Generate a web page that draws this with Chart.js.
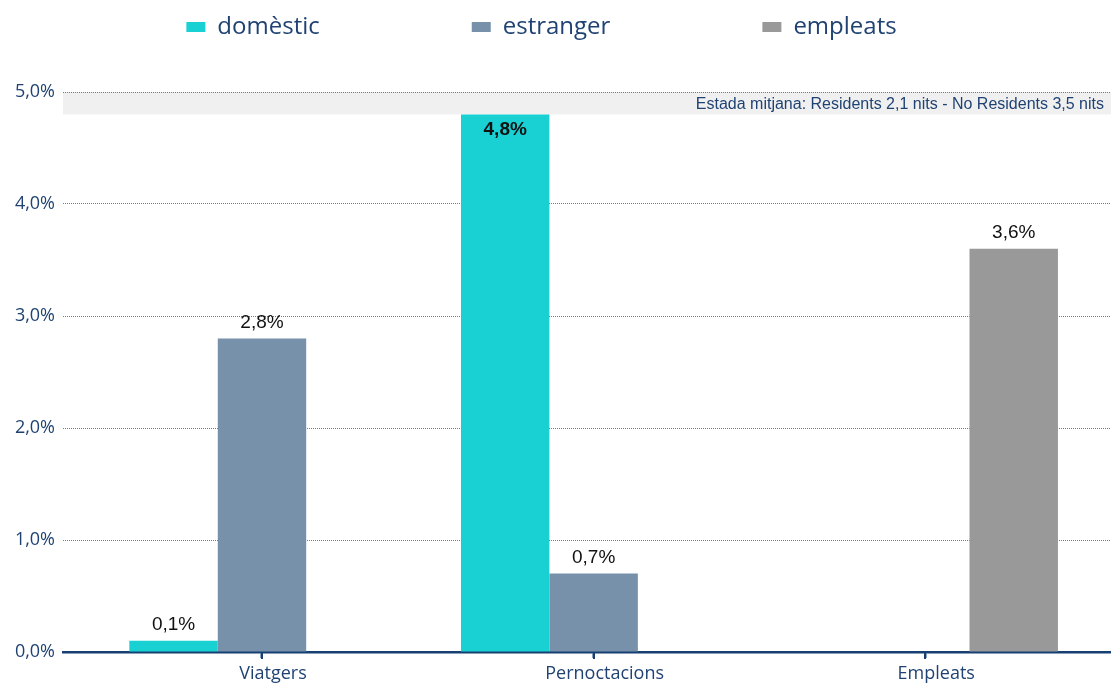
<!DOCTYPE html>
<html lang="ca">
<head>
<meta charset="utf-8">
<title>Viatgers, pernoctacions i empleats</title>
<script src="https://cdn.jsdelivr.net/npm/chart.js@4.4.1/dist/chart.umd.min.js"></script>
<style>
  html, body { margin: 0; background: #fff; }
  canvas { display: block; }
</style>
</head>
<body>
<canvas id="chart" width="1111" height="685"></canvas>
<script>
// values (percent change)
const categories = ['Viatgers', 'Pernoctacions', 'Empleats'];
const domestic = [0.1, 4.8, null];
const foreign = [2.8, 0.7, null];
const employees = [null, null, 3.6];
const yTicks = [0, 1, 2, 3, 4, 5];
const bandRange = [4.8, 5.0];
const note = 'Estada mitjana: Residents 2,1 nits - No Residents 3,5 nits';

const navy = '#1f4273';
const axisColor = '#163f72';
const fmt = v => v.toFixed(1).replace('.', ',') + '%';
const points = arr => arr.map((v, i) => ({ x: i, y: v }));

// grey band with the note, behind everything
const bandPlugin = {
    id: 'band',
    beforeDraw(chart) {
        const { ctx, chartArea, scales } = chart;
        const top = scales.y.getPixelForValue(bandRange[1]);
        const bottom = scales.y.getPixelForValue(bandRange[0]);
        ctx.save();
        ctx.fillStyle = '#f0f0f0';
        ctx.fillRect(chartArea.left, top, chartArea.right - chartArea.left, bottom - top);
        ctx.fillStyle = navy;
        ctx.font = '16px "Liberation Sans", Arial, sans-serif';
        ctx.textAlign = 'right';
        ctx.textBaseline = 'middle';
        ctx.fillText(note, chartArea.right - 7, (top + bottom) / 2 + 1);
        ctx.restore();
    }
};

// value labels above bars (inside, in bold, when too close to the top)
const valueLabels = {
    id: 'valueLabels',
    afterDatasetsDraw(chart) {
        const { ctx, chartArea } = chart;
        ctx.save();
        ctx.fillStyle = '#111';
        ctx.textAlign = 'center';
        ctx.textBaseline = 'middle';
        chart.data.datasets.forEach((ds, i) => {
            chart.getDatasetMeta(i).data.forEach((bar, j) => {
                const v = ds.data[j].y;
                if (v == null) return;
                let y = bar.y - 16;
                let weight = '';
                if (y < chartArea.top + 30) {
                    y = bar.y + 15;
                    weight = 'bold ';
                }
                ctx.font = weight + '19px "Liberation Sans", Arial, sans-serif';
                ctx.fillText(fmt(v), bar.x, y);
            });
        });
        ctx.restore();
    }
};

// small tick marks under the x axis at each category
const categoryTicks = {
    id: 'categoryTicks',
    afterDraw(chart) {
        const { ctx, chartArea, scales } = chart;
        ctx.save();
        ctx.fillStyle = axisColor;
        categories.forEach((c, i) => {
            const px = Math.round(scales.x.getPixelForValue(i));
            ctx.fillRect(px - 1, chartArea.bottom, 2, 7);
        });
        ctx.restore();
    }
};

// legend: fixed height and moved up, keeping the wide spacing between items
const legendPlace = {
    id: 'legendPlace',
    afterInit(chart) {
        const lg = chart.legend;
        const fit = lg.fit;
        lg.fit = function () { fit.call(this); this.height = 92; };
        const draw = lg._draw;
        lg._draw = function () {
            this.ctx.save();
            this.ctx.translate(-14, -137);
            draw.call(this);
            this.ctx.restore();
        };
    }
};

new Chart(document.getElementById('chart'), {
    type: 'bar',
    data: {
        datasets: [
            { label: 'domèstic', data: points(domestic), backgroundColor: '#19d1d3' },
            { label: 'estranger', data: points(foreign), backgroundColor: '#7791ab' },
            { label: 'empleats', data: points(employees), backgroundColor: '#999999' }
        ]
    },
    options: {
        responsive: false,
        animation: false,
        layout: { padding: 0 },
        datasets: { bar: { categoryPercentage: 0.8, barPercentage: 1 } },
        plugins: {
            legend: {
                position: 'top',
                labels: {
                    boxWidth: 19,
                    boxHeight: 10,
                    padding: 152,
                    color: navy,
                    font: { family: '"Open Sans", sans-serif', size: 24 }
                }
            },
            tooltip: { enabled: false }
        },
        scales: {
            x: {
                type: 'linear',
                offset: false,
                min: -0.6,
                max: 2.56,
                afterBuildTicks: axis => { axis.ticks = categories.map((c, i) => ({ value: i })); },
                afterFit: axis => { axis.height = 33; },
                grid: { offset: false, drawOnChartArea: false, tickLength: 6, tickColor: axisColor, tickWidth: 2 },
                border: { display: true, color: axisColor, width: 2.5 },
                ticks: {
                    autoSkip: false,
                    maxRotation: 0,
                    padding: 5,
                    labelOffset: 11,
                    color: navy,
                    font: { family: '"Open Sans", sans-serif', size: 18 },
                    callback: v => categories[v] ?? ''
                }
            },
            y: {
                min: 0,
                max: 5,
                afterBuildTicks: axis => { axis.ticks = yTicks.map(v => ({ value: v })); },
                afterFit: axis => { axis.width = 63; },
                grid: { drawTicks: false, color: '#5f80ab', lineWidth: 1 },
                border: { display: false, dash: [1, 1] },
                ticks: {
                    padding: 8,
                    color: navy,
                    font: { family: '"Open Sans", sans-serif', size: 18 },
                    callback: v => fmt(v)
                }
            }
        }
    },
    plugins: [bandPlugin, valueLabels, categoryTicks, legendPlace]
});
</script>
</body>
</html>
